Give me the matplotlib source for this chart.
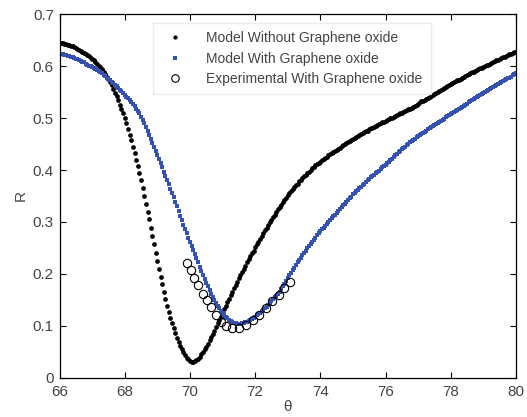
import numpy as np
import matplotlib
matplotlib.use("Agg")
import matplotlib.pyplot as plt

plt.rcParams["font.family"] = ["Liberation Sans", "DejaVu Sans"]

# angle grid of the model curves (deg)
theta_model = np.round(np.arange(66.0, 80.0001, 0.05), 2)

r_without = [
    0.645, 0.645, 0.644, 0.643, 0.642, 0.641, 0.640, 0.639, 0.638, 0.636,
    0.635, 0.633, 0.631, 0.629, 0.627, 0.625, 0.623, 0.621, 0.619, 0.616,
    0.614, 0.611, 0.608, 0.605, 0.601, 0.598, 0.594, 0.589, 0.585, 0.580,
    0.575, 0.569, 0.563, 0.556, 0.549, 0.542, 0.534, 0.526, 0.518, 0.509,
    0.500, 0.490, 0.479, 0.468, 0.457, 0.445, 0.432, 0.420, 0.407, 0.394,
    0.380, 0.365, 0.350, 0.335, 0.320, 0.305, 0.289, 0.273, 0.257, 0.241,
    0.225, 0.210, 0.195, 0.180, 0.166, 0.152, 0.139, 0.127, 0.116, 0.105,
    0.095, 0.086, 0.077, 0.069, 0.062, 0.055, 0.049, 0.044, 0.039, 0.036,
    0.033, 0.031, 0.031, 0.032, 0.034, 0.037, 0.041, 0.045, 0.050, 0.055,
    0.060, 0.066, 0.072, 0.078, 0.085, 0.091, 0.098, 0.105, 0.111, 0.118,
    0.125, 0.132, 0.139, 0.146, 0.152, 0.159, 0.166, 0.172, 0.179, 0.185,
    0.192, 0.198, 0.204, 0.210, 0.216, 0.222, 0.228, 0.234, 0.240, 0.245,
    0.251, 0.257, 0.262, 0.268, 0.273, 0.278, 0.284, 0.289, 0.294, 0.299,
    0.304, 0.309, 0.314, 0.319, 0.324, 0.329, 0.333, 0.338, 0.342, 0.347,
    0.351, 0.355, 0.359, 0.363, 0.367, 0.371, 0.374, 0.378, 0.381, 0.385,
    0.388, 0.391, 0.394, 0.397, 0.400, 0.403, 0.406, 0.409, 0.411, 0.414,
    0.416, 0.419, 0.421, 0.424, 0.426, 0.428, 0.431, 0.433, 0.435, 0.437,
    0.439, 0.441, 0.443, 0.446, 0.448, 0.450, 0.452, 0.454, 0.456, 0.458,
    0.460, 0.462, 0.464, 0.465, 0.467, 0.469, 0.471, 0.473, 0.475, 0.476,
    0.478, 0.480, 0.481, 0.483, 0.485, 0.487, 0.488, 0.490, 0.492, 0.493,
    0.495, 0.497, 0.498, 0.500, 0.501, 0.503, 0.504, 0.506, 0.507, 0.509,
    0.510, 0.512, 0.513, 0.515, 0.517, 0.518, 0.520, 0.522, 0.524, 0.526,
    0.528, 0.530, 0.532, 0.533, 0.535, 0.537, 0.539, 0.541, 0.543, 0.545,
    0.546, 0.548, 0.550, 0.552, 0.554, 0.556, 0.558, 0.560, 0.562, 0.564,
    0.566, 0.568, 0.569, 0.571, 0.573, 0.574, 0.576, 0.578, 0.579, 0.581,
    0.583, 0.584, 0.586, 0.588, 0.589, 0.591, 0.592, 0.594, 0.596, 0.597,
    0.599, 0.600, 0.602, 0.603, 0.605, 0.606, 0.608, 0.609, 0.611, 0.612,
    0.614, 0.615, 0.617, 0.618, 0.620, 0.621, 0.623, 0.624, 0.625, 0.627,
    0.628,
]

r_with = [
    0.624, 0.623, 0.623, 0.622, 0.621, 0.620, 0.619, 0.618, 0.617, 0.615,
    0.614, 0.613, 0.611, 0.610, 0.608, 0.607, 0.605, 0.603, 0.601, 0.600,
    0.598, 0.596, 0.594, 0.592, 0.590, 0.588, 0.586, 0.583, 0.581, 0.578,
    0.576, 0.573, 0.570, 0.567, 0.564, 0.561, 0.558, 0.555, 0.552, 0.548,
    0.545, 0.541, 0.538, 0.534, 0.531, 0.527, 0.523, 0.518, 0.514, 0.509,
    0.503, 0.497, 0.490, 0.483, 0.475, 0.467, 0.460, 0.452, 0.445, 0.437,
    0.429, 0.421, 0.413, 0.405, 0.397, 0.389, 0.381, 0.373, 0.364, 0.356,
    0.348, 0.339, 0.330, 0.321, 0.312, 0.303, 0.295, 0.287, 0.278, 0.270,
    0.262, 0.254, 0.246, 0.238, 0.230, 0.222, 0.214, 0.206, 0.198, 0.191,
    0.183, 0.176, 0.169, 0.162, 0.156, 0.150, 0.144, 0.139, 0.134, 0.129,
    0.124, 0.121, 0.118, 0.115, 0.112, 0.110, 0.108, 0.106, 0.105, 0.104,
    0.104, 0.104, 0.105, 0.106, 0.107, 0.108, 0.110, 0.112, 0.114, 0.116,
    0.118, 0.120, 0.123, 0.125, 0.128, 0.131, 0.134, 0.137, 0.140, 0.144,
    0.147, 0.151, 0.155, 0.158, 0.162, 0.166, 0.171, 0.176, 0.181, 0.187,
    0.192, 0.197, 0.202, 0.207, 0.212, 0.217, 0.222, 0.226, 0.231, 0.236,
    0.240, 0.244, 0.249, 0.253, 0.258, 0.262, 0.266, 0.270, 0.274, 0.278,
    0.282, 0.286, 0.289, 0.293, 0.296, 0.300, 0.303, 0.307, 0.311, 0.314,
    0.318, 0.321, 0.325, 0.328, 0.332, 0.335, 0.339, 0.342, 0.346, 0.349,
    0.353, 0.356, 0.359, 0.362, 0.365, 0.368, 0.371, 0.374, 0.377, 0.380,
    0.383, 0.386, 0.388, 0.391, 0.394, 0.397, 0.399, 0.402, 0.405, 0.407,
    0.410, 0.413, 0.416, 0.419, 0.422, 0.425, 0.428, 0.431, 0.434, 0.437,
    0.440, 0.443, 0.445, 0.448, 0.450, 0.453, 0.455, 0.458, 0.460, 0.463,
    0.465, 0.467, 0.470, 0.472, 0.474, 0.476, 0.478, 0.481, 0.483, 0.485,
    0.487, 0.489, 0.491, 0.493, 0.495, 0.497, 0.499, 0.502, 0.504, 0.506,
    0.508, 0.510, 0.512, 0.514, 0.516, 0.518, 0.520, 0.522, 0.524, 0.526,
    0.528, 0.530, 0.532, 0.534, 0.536, 0.538, 0.540, 0.542, 0.544, 0.546,
    0.548, 0.550, 0.552, 0.554, 0.556, 0.558, 0.559, 0.561, 0.563, 0.565,
    0.567, 0.569, 0.571, 0.573, 0.575, 0.577, 0.578, 0.580, 0.582, 0.584,
    0.586,
]

theta_exp = [69.90, 70.02, 70.12, 70.26, 70.40, 70.52, 70.66, 70.80, 70.96, 71.12,
             71.30, 71.52, 71.72, 71.92, 72.12, 72.32, 72.52, 72.72, 72.90, 73.06]
r_exp = [0.221, 0.208, 0.193, 0.178, 0.162, 0.150, 0.136, 0.120, 0.108, 0.100,
         0.096, 0.095, 0.102, 0.112, 0.121, 0.134, 0.147, 0.160, 0.172, 0.184]

labels = ["Model Without Graphene oxide", "Model With Graphene oxide",
          "Experimental With Graphene oxide"]

fig = plt.figure(figsize=(5.27, 4.17), dpi=100)
ax = fig.add_axes([0.113, 0.094, 0.866, 0.872])

ax.plot(theta_model, r_without, "o", color="black", markersize=3.4,
        markeredgewidth=0, label=labels[0])
ax.plot(theta_model, r_with, "s", color="#3552b0", markersize=2.8,
        markeredgewidth=0, label=labels[1])
ax.plot(theta_exp, r_exp, "o", markerfacecolor="none", markeredgecolor="black",
        markersize=6.0, markeredgewidth=0.8, label=labels[2])

ax.set_xlim(66, 80)
ax.set_ylim(0, 0.7)
ax.set_xticks(np.arange(66, 81, 2))
ax.set_yticks(np.round(np.arange(0, 0.71, 0.1), 1))
ax.set_yticklabels(["0", "0.1", "0.2", "0.3", "0.4", "0.5", "0.6", "0.7"])
ax.tick_params(direction="in", top=True, right=True, length=4, width=0.8,
               labelsize=11, labelcolor="#444444")
ax.tick_params(axis="x", pad=5)
ax.tick_params(axis="y", pad=4)
for s in ax.spines.values():
    s.set_linewidth(0.9)

ax.set_xlabel("θ", fontsize=11, color="#444444", labelpad=1)
ax.set_ylabel("R", fontsize=11, color="#444444", labelpad=4)

leg = ax.legend(loc="upper left", bbox_to_anchor=(0.19, 0.995), fontsize=10,
                frameon=True, fancybox=False, edgecolor="#e6e6e6",
                handletextpad=1.2, labelspacing=0.45, borderpad=0.6,
                markerscale=0.9)
for t in leg.get_texts():
    t.set_color("#444444")

fig.savefig("out.png", dpi=100)
